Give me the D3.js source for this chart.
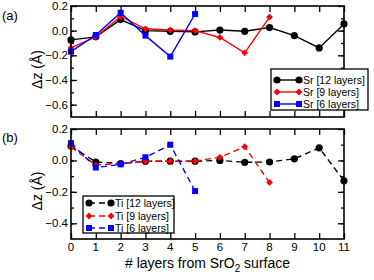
<!DOCTYPE html>
<html>
<head>
<meta charset="utf-8">
<script src="https://cdn.jsdelivr.net/npm/d3@7"></script>
<style>
  body { margin: 0; background: #fff; }
  svg { font-family: "Liberation Sans", Arial, sans-serif; }
</style>
</head>
<body>
<div id="chart"></div>
<script>
// layer index from the SrO2 surface
const layers = [0, 1, 2, 3, 4, 5, 6, 7, 8, 9, 10, 11];

// panel (a): Sr displacement
const sr12 = [-0.075, -0.05, 0.09, 0.0, -0.005, -0.01, 0.005, -0.005, 0.025, -0.04, -0.14, 0.055];
const sr9 = [-0.14, -0.05, 0.115, 0.015, 0.005, 0.0, -0.055, -0.18, 0.11];
const sr6 = [-0.17, -0.035, 0.145, -0.04, -0.21, 0.135];

// panel (b): Ti displacement
const ti12 = [0.09, -0.01, -0.02, -0.005, -0.005, -0.005, 0.0, -0.012, -0.01, 0.01, 0.08, -0.13];
const ti9 = [0.085, -0.03, -0.02, -0.006, -0.005, -0.004, 0.02, 0.087, -0.14];
const ti6 = [0.11, -0.045, -0.025, 0.02, 0.1, -0.195];

const xTicks = layers;
const yTicksA = [0.2, 0.0, -0.2, -0.4, -0.6];
const yTicksB = [0.2, 0.0, -0.2, -0.4];

const width = 374, height = 280;
const left = 71, right = 344;

const svg = d3.select('#chart').append('svg')
  .attr('width', width)
  .attr('height', height);

const x = d3.scaleLinear().domain([0, 11]).range([left, right]);

const panels = [
  {
    tag: '(a)', top: 6, bottom: 117, domain: [-0.7, 0.2], ticks: yTicksA,
    dash: null,
    series: [
      { name: 'Sr [12 layers]', values: sr12, color: '#000000', marker: 'circle' },
      { name: 'Sr [9 layers]', values: sr9, color: '#ff0000', marker: 'diamond' },
      { name: 'Sr [6 layers]', values: sr6, color: '#0000ff', marker: 'square' },
    ],
    legend: { x: 271, y: 69, w: 97, h: 41, rows: [80, 92, 104] },
  },
  {
    tag: '(b)', top: 129, bottom: 239, domain: [-0.5, 0.2], ticks: yTicksB,
    dash: '6,4',
    series: [
      { name: 'Ti [12 layers]', values: ti12, color: '#000000', marker: 'circle' },
      { name: 'Ti [9 layers]', values: ti9, color: '#ff0000', marker: 'diamond' },
      { name: 'Ti [6 layers]', values: ti6, color: '#0000ff', marker: 'square' },
    ],
    legend: { x: 83, y: 196, w: 91, h: 37, rows: [203, 216, 228] },
  },
];

function drawMarker(g, type, cx, cy, color) {
  if (type === 'circle') {
    g.append('circle').attr('cx', cx).attr('cy', cy).attr('r', 3.6).attr('fill', color);
  } else if (type === 'diamond') {
    const s = 3.4;
    g.append('path')
      .attr('d', `M${cx},${cy - s}L${cx + s},${cy}L${cx},${cy + s}L${cx - s},${cy}Z`)
      .attr('fill', color);
  } else {
    g.append('rect').attr('x', cx - 3).attr('y', cy - 3).attr('width', 6).attr('height', 6).attr('fill', color);
  }
}

panels.forEach(function(p, pi) {
  const y = d3.scaleLinear().domain(p.domain).range([p.bottom, p.top]);
  const g = svg.append('g');

  // inward ticks on all four sides
  const minorY = d3.range(p.domain[0] + 0.1, p.domain[1] - 0.05, 0.1);
  g.append('g').attr('transform', `translate(${left},0)`)
    .call(d3.axisRight(y).tickValues(p.ticks).tickSize(6).tickFormat(''));
  g.append('g').attr('transform', `translate(${left},0)`)
    .call(d3.axisRight(y).tickValues(minorY).tickSize(3).tickFormat(''));
  g.append('g').attr('transform', `translate(${right},0)`)
    .call(d3.axisLeft(y).tickValues(p.ticks).tickSize(6).tickFormat(''));
  g.append('g').attr('transform', `translate(${right},0)`)
    .call(d3.axisLeft(y).tickValues(minorY).tickSize(3).tickFormat(''));
  g.append('g').attr('transform', `translate(0,${p.bottom})`)
    .call(d3.axisTop(x).tickValues(xTicks).tickSize(6).tickFormat(''));
  g.append('g').attr('transform', `translate(0,${p.top})`)
    .call(d3.axisBottom(x).tickValues(xTicks).tickSize(6).tickFormat(''));
  g.selectAll('.domain').remove();
  g.selectAll('.tick line').attr('stroke', '#000').attr('stroke-width', 1.3);

  // y tick labels
  g.selectAll('text.ylab').data(p.ticks).enter().append('text')
    .attr('class', 'ylab')
    .attr('x', left - 3)
    .attr('y', d => y(d) + 4)
    .attr('text-anchor', 'end')
    .attr('font-size', 11.5)
    .text(d => d3.format('.1f')(d));

  // series
  p.series.forEach(function(s) {
    const pts = s.values.map((v, i) => [x(layers[i]), y(v)]);
    g.append('path')
      .attr('d', d3.line()(pts))
      .attr('fill', 'none')
      .attr('stroke', s.color)
      .attr('stroke-width', 1.4)
      .attr('stroke-dasharray', p.dash);
    pts.forEach(pt => drawMarker(g, s.marker, pt[0], pt[1], s.color));
  });

  // frame
  g.append('rect')
    .attr('x', left).attr('y', p.top)
    .attr('width', right - left).attr('height', p.bottom - p.top)
    .attr('fill', 'none').attr('stroke', '#000').attr('stroke-width', 1.6);

  // legend
  const L = p.legend;
  const lg = g.append('g');
  lg.append('rect')
    .attr('x', L.x).attr('y', L.y).attr('width', L.w).attr('height', L.h)
    .attr('fill', '#fff').attr('stroke', '#000').attr('stroke-width', 1.3);
  p.series.forEach(function(s, i) {
    const ry = L.rows[i];
    const x0 = L.x + 6, x1 = L.x + 28;
    lg.append('line')
      .attr('x1', x0).attr('x2', x1).attr('y1', ry).attr('y2', ry)
      .attr('stroke', s.color).attr('stroke-width', 1.4)
      .attr('stroke-dasharray', p.dash);
    drawMarker(lg, s.marker, x0, ry, s.color);
    drawMarker(lg, s.marker, x1, ry, s.color);
    lg.append('text')
      .attr('x', x1 + 4).attr('y', ry + 4)
      .attr('font-size', 10.5)
      .text(s.name);
  });

  // panel tag
  svg.append('text')
    .attr('x', 2).attr('y', p.top + 14 - pi * 1)
    .attr('font-size', 13)
    .text(p.tag);

  // y label
  svg.append('text')
    .attr('transform', `translate(42,${(p.top + p.bottom) / 2 + (pi ? 7 : 8)}) rotate(-90)`)
    .attr('text-anchor', 'middle')
    .attr('font-size', 14)
    .text('\u0394z (\u00C5)');
});

// x tick labels under bottom panel
svg.selectAll('text.xlab').data(xTicks).enter().append('text')
  .attr('class', 'xlab')
  .attr('x', d => x(d))
  .attr('y', 251)
  .attr('text-anchor', 'middle')
  .attr('font-size', 11.5)
  .text(d => d);

// x axis title
const xt = svg.append('text')
  .attr('x', (left + right) / 2)
  .attr('y', 268)
  .attr('text-anchor', 'middle')
  .attr('font-size', 14);
xt.append('tspan').text('# layers from SrO');
xt.append('tspan').attr('font-size', 10).attr('dy', 4).text('2');
xt.append('tspan').attr('dy', -4).text(' surface');
</script>
</body>
</html>
